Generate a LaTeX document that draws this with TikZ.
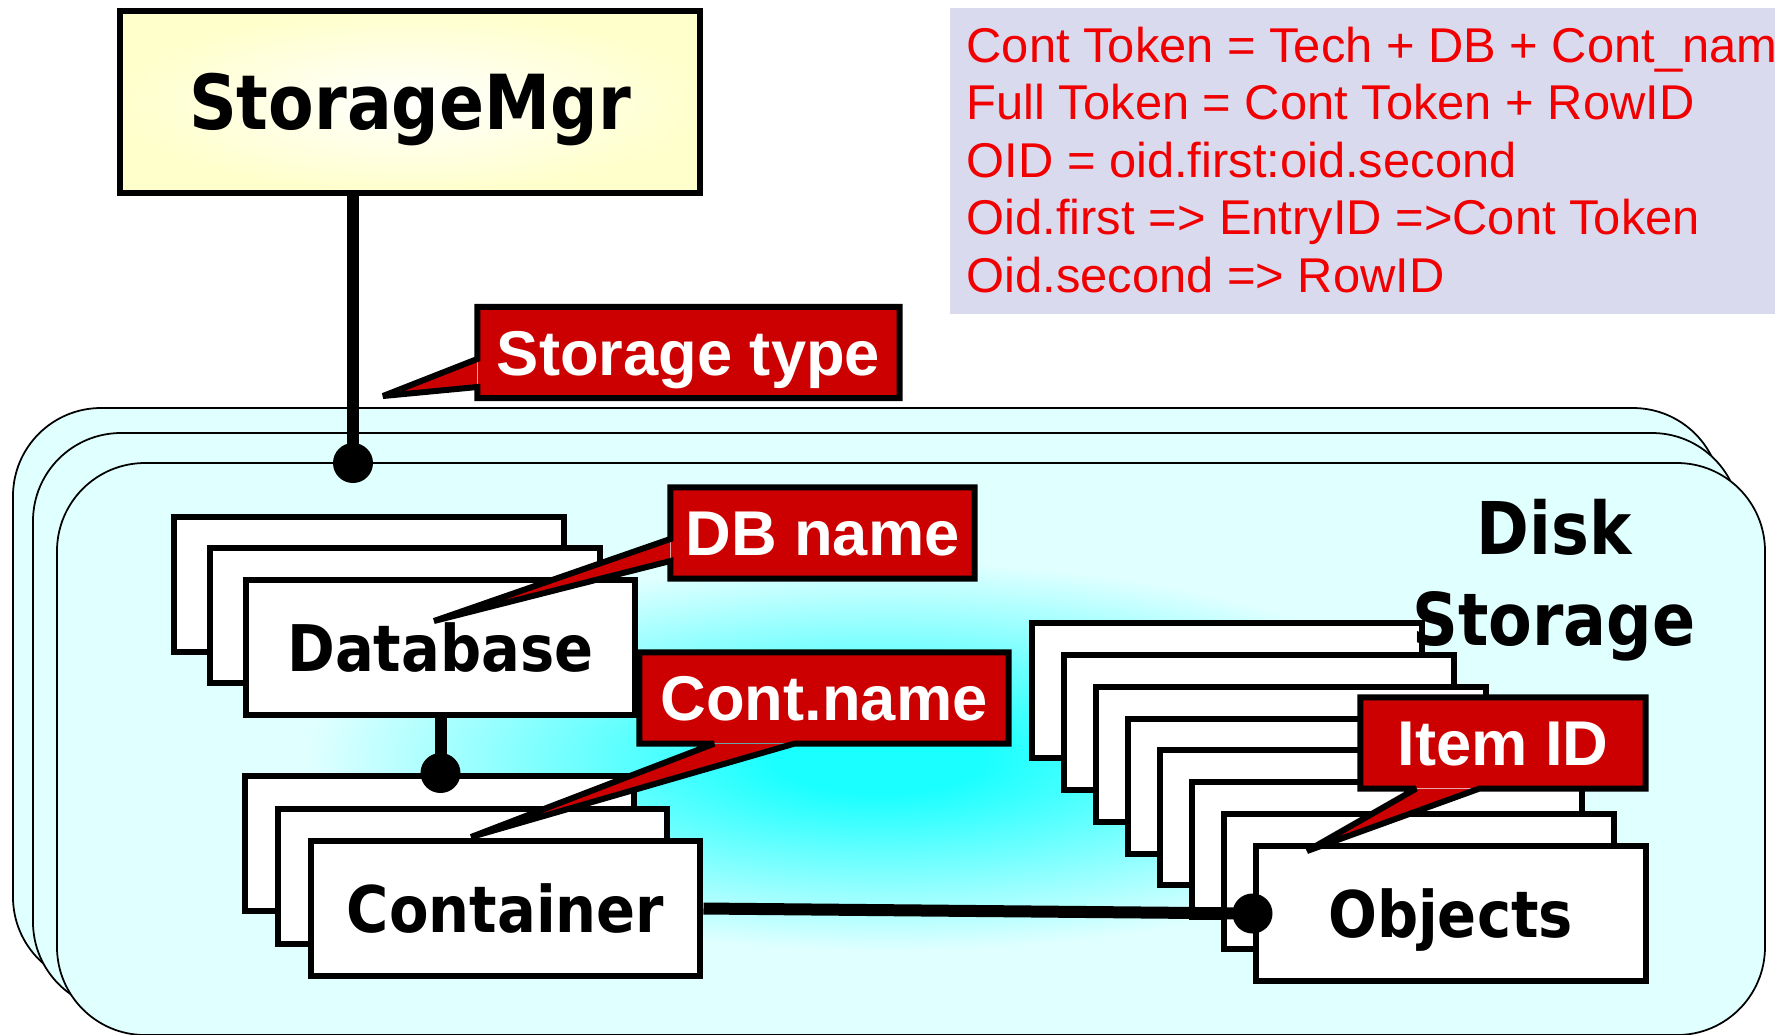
\documentclass[tikz,border=0pt]{standalone}
\usepackage{fontspec}
\setmainfont{Liberation Sans}
\newfontfamily\boxfont[FakeStretch=0.875]{DejaVu Sans}
\newfontfamily\cardfont[FakeStretch=0.895]{DejaVu Sans}
\newfontfamily\tagfont{Liberation Sans}
\usepackage{tikz}
\definecolor{mgrgul}{HTML}{FFFFCC}
\definecolor{notgra}{HTML}{DADAEE}
\definecolor{notred}{HTML}{F00000}
\definecolor{tagred}{HTML}{CC0000}
\definecolor{diskpale}{HTML}{E0FFFF}
\definecolor{diskcore}{HTML}{1AFFFF}
\pgfdeclareradialshading{diskglow}{\pgfpoint{-1bp}{-1bp}}{%
  color(0bp)=(diskcore); color(3bp)=(diskcore); color(17bp)=(diskpale); color(50bp)=(diskpale)}
\pgfdeclareradialshading{mgrglow}{\pgfpoint{0bp}{0bp}}{%
  color(0bp)=(white); color(25bp)=(mgrgul); color(50bp)=(mgrgul)}
\tikzset{
  % lådor
  mgr/.style={draw,line width=0.6mm,shading=mgrglow,minimum width=58mm,
              minimum height=18.2mm,inner sep=0pt,text height=5.5mm,text depth=0pt,
              font=\boxfont\bfseries\fontsize{21.6}{26}\selectfont},
  card/.style={draw,line width=0.6mm,fill=white,minimum width=39mm,
               minimum height=13.5mm,inner sep=0pt,text height=4.7mm,text depth=0pt,
               font=\cardfont\bfseries\fontsize{18.3}{22}\selectfont},
  disk/.style={draw,line width=0.5pt,fill=diskpale,rounded corners=8.8mm},
  diskfront/.style={disk,shading=diskglow},
  disklbl/.style={align=center,inner sep=0pt,
                  font=\boxfont\bfseries\fontsize{20.7}{25.9}\selectfont},
  % etiketter
  tag/.style={fill=tagred,text=white,minimum height=9mm,inner sep=0pt,
              text height=4.5mm,text depth=0pt,
              font=\tagfont\bfseries\fontsize{18}{22}\selectfont},
  tagline/.style={line width=0.6mm,miter limit=3},
  notebg/.style={fill=notgra,inner sep=0pt},
  note/.style={text=notred,inner sep=0pt,anchor=base west,
               font=\fontsize{13.9}{16}\selectfont},
  % förbindelser
  link/.style={line width=1.2mm},
}

\begin{document}
\begin{tikzpicture}[x=0.1mm,y=-0.1mm]
\useasboundingbox (0,0) rectangle (1775,1034);
\clip (0,0) rectangle (1775,1034);
  \draw[disk] (13,408) rectangle (1721,985);
  \draw[disk] (33,433) rectangle (1740,1010);
  \draw[diskfront] (57,463) rectangle (1765,1035);
  \node[notebg,anchor=north west,minimum width=85mm,minimum height=30.6mm] (notes) at (949,7) {};
  \foreach \txt [count=\i] in {Cont Token = Tech + DB + Cont\_name,
      Full Token = Cont Token + RowID, OID = oid.first:oid.second,
      Oid.first => EntryID =>Cont Token, Oid.second => RowID}
    \node[note] (note\i) at (966,{62+57.5*(\i-1)}) {\txt};
  \node[mgr] (mgr) at (410,102) {StorageMgr};
  \foreach \i in {7,...,1}
    \node[card] (obj\i) at (1450.5-32*\i,913.5-31.86*\i) {};
  \node[card] (obj) at (1450.5,913.5) {Objects};
  \foreach \i in {2,1}
    \node[card] (db\i) at (440.5-35.75*\i,647.5-31.75*\i) {};
  \node[card] (db) at (440.5,647.5) {Database};
  \foreach \i in {2,1}
    \node[card] (cont\i) at (505.5-33*\i,908.5-32.5*\i) {};
  \node[card] (cont) at (505.5,908.5) {Container};
  \node[disklbl] (disk) at (1554,580) {Disk\\Storage};
  \coordinate (mgrpin) at (353,463);
  \draw[link] (mgrpin |- mgr.south) -- (mgrpin);
  \fill (mgrpin) circle (2mm);
  \coordinate (dbpin) at (db.south |- cont2.north);
  \draw[link] (db.south) -- (dbpin);
  \fill (dbpin) circle (2mm);
  \draw[link] (cont.east) -- (obj.west);
  \fill (obj.west) circle (2mm);
  \node[tag,minimum width=42.1mm] (typetag) at (688.5,352.5) {Storage type};
  \coordinate (typetip) at (383,396);
  \fill[tagred] (typetag.west |- 0,359) -- (typetip) -- (typetag.west |- 0,387) -- cycle;
  \draw[tagline] (typetag.north west) -- (typetag.north east) -- (typetag.south east)
    -- (typetag.south west) -- (typetag.west |- 0,387) -- (typetip) -- (typetag.west |- 0,359) -- cycle;
  \node[tag,minimum width=30.3mm] (dbtag) at (822.5,533) {DB name};
  \coordinate (dbtip) at (434,621);
  \fill[tagred] (dbtag.west |- 0,539) -- (dbtip) -- (dbtag.west |- 0,561) -- cycle;
  \draw[tagline] (dbtag.north west) -- (dbtag.north east) -- (dbtag.south east)
    -- (dbtag.south west) -- (dbtag.west |- 0,561) -- (dbtip) -- (dbtag.west |- 0,539) -- cycle;
  \node[tag,minimum width=36.8mm] (conttag) at (824,698) {Cont.name};
  \coordinate (conttip) at (471,837);
  \fill[tagred] (714,0 |- conttag.south) -- (conttip) -- (794,0 |- conttag.south) -- cycle;
  \draw[tagline] (conttag.north west) -- (conttag.north east) -- (conttag.south east)
    -- (794,0 |- conttag.south) -- (conttip) -- (714,0 |- conttag.south) -- (conttag.south west) -- cycle;
  \node[tag,minimum width=28.4mm] (itemtag) at (1503,743) {Item ID};
  \coordinate (itemtip) at (1307,851);
  \fill[tagred] (1416,0 |- itemtag.south) -- (itemtip) -- (1479,0 |- itemtag.south) -- cycle;
  \draw[tagline] (itemtag.north west) -- (itemtag.north east) -- (itemtag.south east)
    -- (1479,0 |- itemtag.south) -- (itemtip) -- (1416,0 |- itemtag.south) -- (itemtag.south west) -- cycle;
\end{tikzpicture}
\end{document}
